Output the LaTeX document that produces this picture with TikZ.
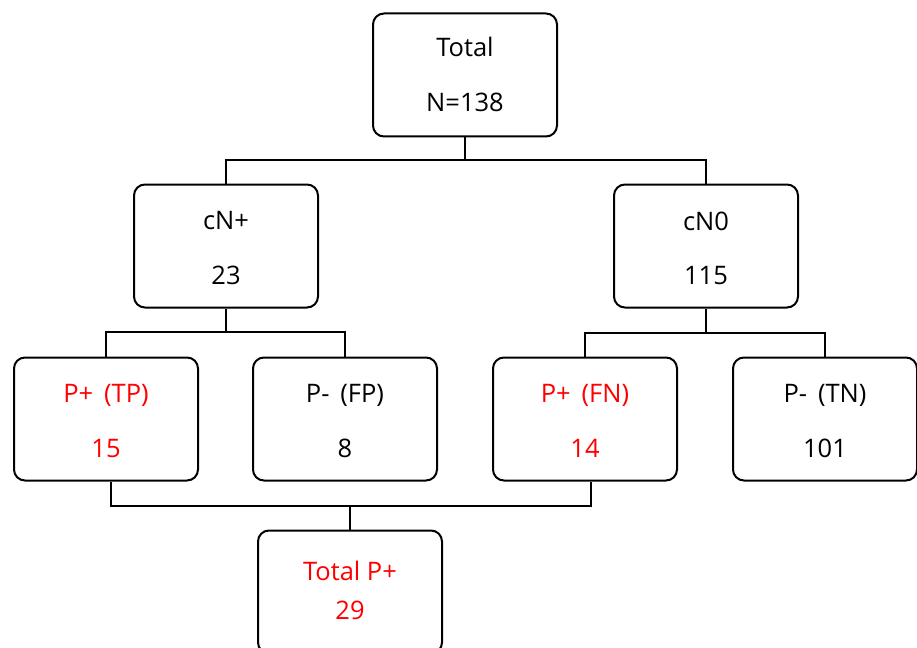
\documentclass[tikz,border=0pt]{standalone}
\usepackage{fontspec}
\setmainfont{Open Sans}
\usetikzlibrary{calc}
\begin{document}
\begin{tikzpicture}[x=1pt,y=-1pt,
  box/.style={draw=black,line width=2pt,rounded corners=11pt,fill=white,inner sep=0pt,
    minimum width=184pt,minimum height=123pt},
  txt/.style={anchor=base,inner sep=0pt,font=\fontsize{25.5}{30}\selectfont},
  redtxt/.style={txt,text=red},
  conn/.style={draw=black,line width=2pt}]
\useasboundingbox (0,0) rectangle (917,647);
\fill[white] (0,0) rectangle (917,647);
% boxes
\node[box] (tot) at (465,75) {};
\node[box] (cnp) at (226,246) {};
\node[box] (cn0) at (706,246) {};
\node[box] (tp) at (106,419) {};
\node[box] (fp) at (345,419) {};
\node[box] (fn) at (585,419) {};
\node[box] (tn) at (825,419) {};
\node[box] (tpp) at (350,592) {};
% texts
\node[txt] (totA) at (465,57) {Total};
\node[txt] (totB) at (465,112) {N=138};
\node[txt] (cnpA) at (226,229) {cN+};
\node[txt] (cnpB) at (226,284) {23};
\node[txt] (cn0A) at (706,230) {cN0};
\node[txt] (cn0B) at (706,284) {115};
\node[redtxt] (tpA) at (106,402) {P+ \,(TP)};
\node[redtxt] (tpB) at (106,457) {15};
\node[txt] (fpA) at (345,402) {P- \,(FP)};
\node[txt] (fpB) at (345,457) {8};
\node[redtxt] (fnA) at (585,402) {P+ \,(FN)};
\node[redtxt] (fnB) at (585,457) {14};
\node[txt] (tnA) at (825,402) {P- \,(TN)};
\node[txt] (tnB) at (825,457) {101};
\node[redtxt] (tppA) at (350,580) {Total P+};
\node[redtxt] (tppB) at (350,619) {29};
% connectors
\coordinate (j1) at (tot.south |- 0,160);
\coordinate (j2) at (cnp.south |- 0,332);
\coordinate (j3) at (cn0.south |- 0,333);
\coordinate (j4) at (tpp.north |- 0,506);
\draw[conn] (tot.south) -- (j1);
\draw[conn] (cnp.north) |- (j1) -| (cn0.north);
\draw[conn] (cnp.south) -- (j2);
\draw[conn] (tp.north) |- (j2) -| (fp.north);
\draw[conn] (cn0.south) -- (j3);
\draw[conn] (fn.north) |- (j3) -| (tn.north);
\draw[conn] ($(tp.south)+(5,0)$) |- (j4) -| ($(fn.south)+(6,0)$);
\draw[conn] (j4) -- (tpp.north);
\end{tikzpicture}
\end{document}
